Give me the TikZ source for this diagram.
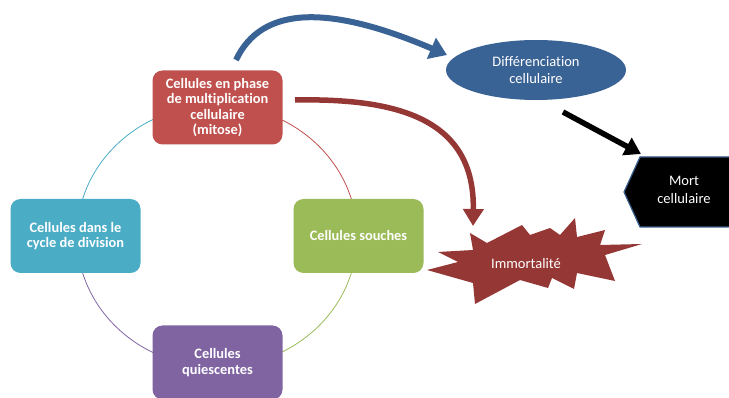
\documentclass[tikz,border=0pt]{standalone}
\usepackage{fontspec}
\setmainfont{Carlito}[Ligatures={NoCommon}]
\usetikzlibrary{arrows.meta,shapes.geometric}
\definecolor{mitosered}{HTML}{C0504D}
\definecolor{cycleteal}{HTML}{4BACC6}
\definecolor{stemgreen}{HTML}{9BBB59}
\definecolor{quietpurple}{HTML}{8064A2}
\definecolor{diffblue}{HTML}{3A6395}
\definecolor{darkred}{HTML}{953735}
\definecolor{hexedge}{HTML}{385D8A}
\begin{document}
\begin{tikzpicture}[x=1pt,y=-1pt,
  cellbox/.style={rounded corners=10pt, minimum width=130pt, minimum height=74pt,
    text=white, font=\bfseries\fontsize{14.4}{15.4}\selectfont, align=center, inner sep=2pt},
  plainlabel/.style={text=white, font=\fontsize{14.5}{17.5}\selectfont, align=center},
  ringarc/.style={line width=0.8pt},
  fatarrow/.style={line width=#1}]
\useasboundingbox (0,0) rectangle (729,398);
\clip (0,0) rectangle (729,398);

% cycle ring, one coloured quarter per stage
\draw[ringarc, cycleteal]   (77,236)  arc[start angle=180, end angle=90,  x radius=140pt, y radius=131pt];
\draw[ringarc, mitosered]   (217,105) arc[start angle=90,  end angle=0,   x radius=140pt, y radius=131pt];
\draw[ringarc, stemgreen]   (357,236) arc[start angle=0,   end angle=-90, x radius=140pt, y radius=131pt];
\draw[ringarc, quietpurple] (217,367) arc[start angle=-90, end angle=-180, x radius=140pt, y radius=131pt];

% stage boxes
\node[cellbox, fill=mitosered]   (mitose) at (217.5,107.5) {Cellules en phase\\de multiplication\\cellulaire\\(mitose)};
\node[cellbox, fill=cycleteal]   (cycle)  at (75.5,236)    {Cellules dans le\\cycle de division};
\node[cellbox, fill=stemgreen]   (souche) at (358.5,236)   {Cellules souches};
\node[cellbox, fill=quietpurple] (quiet)  at (217.5,362.5) {Cellules\\quiescentes};

% differentiation ellipse
\node[ellipse, fill=diffblue, minimum width=180pt, minimum height=60pt, inner sep=0pt,
      plainlabel] (diff) at (536,70) {Différenciation\\cellulaire};

% cell death hexagon
\fill[black, draw=hexedge, line width=1.2pt]
  (624,192) -- (640,157) -- (735,157) -- (751,192) -- (735,227) -- (640,227) -- cycle;
\node[plainlabel] (mort) at (684,190) {Mort\\cellulaire};

% immortality burst
\fill[darkred] (470,233) -- (487,243) -- (522,225) -- (530,235) -- (550,228) -- (560,235)
  -- (575,218) -- (577,237) -- (605,230) -- (600,245) -- (642,244) -- (605,255)
  -- (615,281) -- (577,273) -- (574,289) -- (552,278) -- (548,288) -- (520,280)
  -- (475,304) -- (473,283) -- (427,270) -- (458,262) -- (438,252) -- (473,250) -- cycle;
\node[plainlabel] (immortal) at (526,264) {Immortalité};

% arrow anchors
\coordinate (blueStart) at (236,60);
\coordinate (blueTip)   at (447,55);
\coordinate (redStart)  at (295,100);
\coordinate (redTip)    at (473,226);
\coordinate (blackStart) at (563,112);
\coordinate (blackTip)   at (641,154);

% arrows
\draw[fatarrow=6pt, diffblue, -{Triangle[length=17pt,width=22pt]}]
  (blueStart) .. controls (262,5) and (330,5) .. (blueTip);
\draw[fatarrow=5.5pt, darkred, -{Triangle[length=17pt,width=20pt]}]
  (redStart) .. controls (400,98) and (475,120) .. (redTip);
\draw[fatarrow=5.5pt, black, -{Triangle[length=16pt,width=19pt]}]
  (blackStart) -- (blackTip);
\end{tikzpicture}
\end{document}
